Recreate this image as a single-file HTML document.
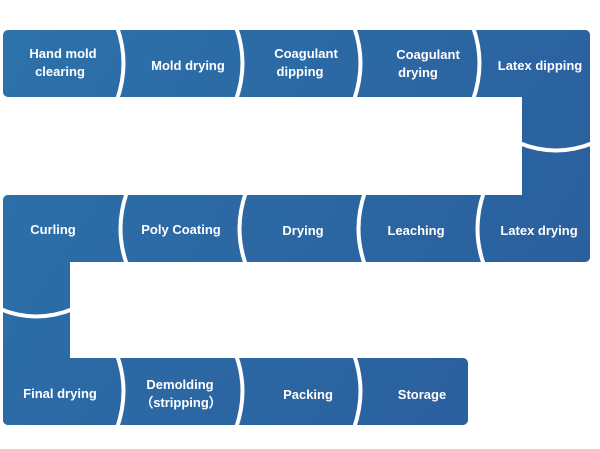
<!DOCTYPE html>
<html><head><style>
html,body{margin:0;padding:0;background:#fff;}
svg{display:block}
text{font-family:"Liberation Sans",sans-serif;font-weight:bold;font-size:13px;fill:#fff;text-anchor:middle}
</style></head><body>
<svg width="600" height="449" viewBox="0 0 600 449" xmlns="http://www.w3.org/2000/svg">
<defs>
<linearGradient id="g" gradientUnits="userSpaceOnUse" x1="0" y1="30" x2="600" y2="425">
<stop offset="0" stop-color="#2d72aa"/><stop offset="1" stop-color="#2a5c9c"/>
</linearGradient>
</defs>
<g fill="url(#g)">
<rect x="3" y="30" width="587" height="67" rx="5"/>
<rect x="522" y="30" width="68" height="232" rx="5"/>
<rect x="3" y="195" width="587" height="67" rx="5"/>
<rect x="3" y="195" width="67" height="230" rx="5"/>
<rect x="3" y="358" width="465" height="67" rx="5"/>
</g>
<g fill="none" stroke="#fff" stroke-width="4">
<path d="M117 27 Q130 63 117 100"/>
<path d="M236 27 Q249 63 236 100"/>
<path d="M354 27 Q367 63 354 100"/>
<path d="M473 27 Q486 63 473 100"/>
<path d="M127 192 Q114 229 127 265"/>
<path d="M246 192 Q233 229 246 265"/>
<path d="M365 192 Q352 229 365 265"/>
<path d="M484 192 Q471 229 484 265"/>
<path d="M117 355 Q130 391 117 428"/>
<path d="M236 355 Q249 391 236 428"/>
<path d="M354 355 Q367 391 354 428"/>
<path d="M519 143 Q556 158 593 143"/>
<path d="M0 309 Q36 324 73 309"/>
</g>
<text x="63" y="58">Hand mold</text>
<text x="60" y="76">clearing</text>
<text x="188" y="70">Mold drying</text>
<text x="306" y="58">Coagulant</text>
<text x="300" y="76">dipping</text>
<text x="428" y="59">Coagulant</text>
<text x="418" y="77">drying</text>
<text x="540" y="70">Latex dipping</text>
<text x="53" y="234">Curling</text>
<text x="181" y="234">Poly Coating</text>
<text x="303" y="235">Drying</text>
<text x="416" y="235">Leaching</text>
<text x="539" y="235">Latex drying</text>
<text x="60" y="398">Final drying</text>
<text x="180" y="389">Demolding</text>
<text x="181" y="407">（stripping）</text>
<text x="308" y="399">Packing</text>
<text x="422" y="399">Storage</text>
</svg>
</body></html>
